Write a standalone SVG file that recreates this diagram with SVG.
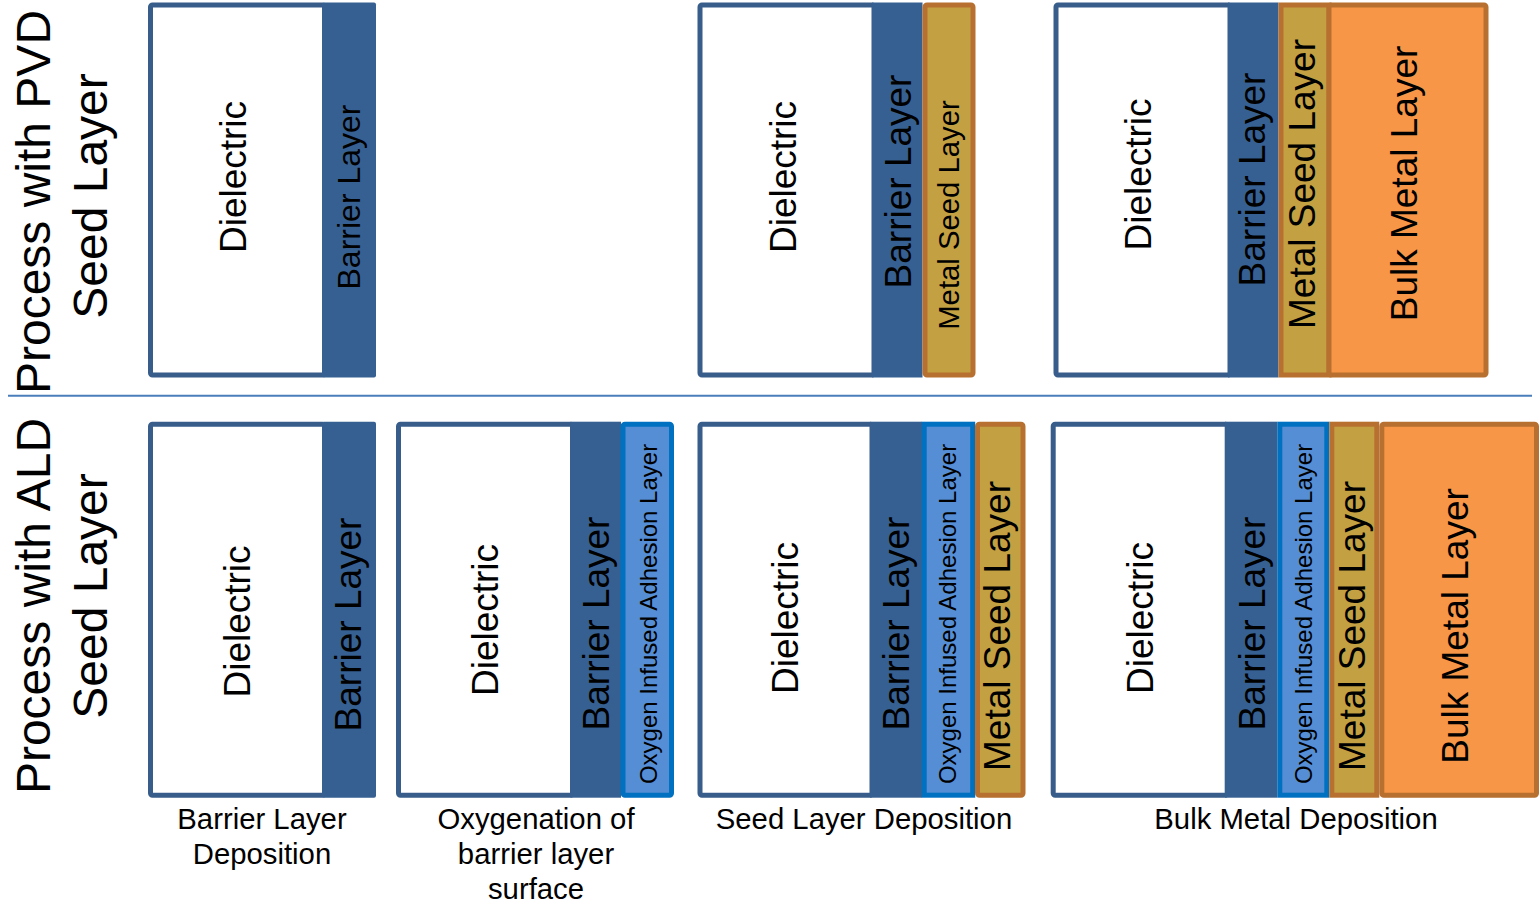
<svg xmlns="http://www.w3.org/2000/svg" width="1540" height="905" viewBox="0 0 1540 905">
<style>
text{font-family:"Liberation Sans",Arial,sans-serif;fill:#000;text-anchor:middle}
.diel{fill:#fff;stroke:#385D8A;stroke-width:5}
.bar{fill:#376092}
.oxy{fill:#558ED5;stroke:#0070C0;stroke-width:5}
.seed{fill:#C3A042;stroke:#B7702F;stroke-width:5}
.bulk{fill:#F79646;stroke:#B7702F;stroke-width:5}
.f37{font-size:37px}
.f32{font-size:32px}
.f29{font-size:29.3px}
.f24{font-size:24px}
.f48{font-size:48px}
</style>
<rect width="1540" height="905" fill="#fff"/>
<g id="divider"><line x1="8" y1="395.7" x2="1532" y2="395.7" stroke="#4A7EBB" stroke-width="2"/></g>
<g id="labels">
<text class="f48" transform="translate(50,202) rotate(-90)">Process with PVD</text>
<text class="f48" transform="translate(107,196) rotate(-90)">Seed Layer</text>
<text class="f48" transform="translate(50,606) rotate(-90)">Process with ALD</text>
<text class="f48" transform="translate(107,596) rotate(-90)">Seed Layer</text>
</g>
<g id="pvd-1">
<rect class="diel" x="150.5" y="5" width="174" height="370" rx="2"/>
<rect class="bar" x="322" y="2.5" width="54" height="375" rx="2"/>
<text class="f37" transform="translate(246,177) rotate(-90)">Dielectric</text>
<text class="f32" transform="translate(360,197) rotate(-90)">Barrier Layer</text>
</g>
<g id="pvd-2">
<rect class="diel" x="700" y="5" width="174" height="370" rx="2"/>
<rect class="bar" x="872" y="2.5" width="50.5" height="375"/>
<rect class="seed" x="925" y="5" width="48" height="370" rx="2"/>
<text class="f37" transform="translate(796,177) rotate(-90)">Dielectric</text>
<text class="f37" transform="translate(911,181.5) rotate(-90)">Barrier Layer</text>
<text class="f29" transform="translate(959,215) rotate(-90)">Metal Seed Layer</text>
</g>
<g id="pvd-3">
<rect class="diel" x="1056" y="5" width="174" height="370" rx="2"/>
<rect class="bar" x="1228" y="2.5" width="50.5" height="375"/>
<rect class="seed" x="1281" y="5" width="48" height="370"/>
<rect class="bulk" x="1329" y="5" width="157" height="370" rx="2"/>
<text class="f37" transform="translate(1151,174.5) rotate(-90)">Dielectric</text>
<text class="f37" transform="translate(1265,179.5) rotate(-90)">Barrier Layer</text>
<text class="f37" transform="translate(1315,184) rotate(-90)">Metal Seed Layer</text>
<text class="f37" transform="translate(1417,183.5) rotate(-90)">Bulk Metal Layer</text>
</g>
<g id="ald-1">
<rect class="diel" x="150.5" y="424.2" width="174" height="371" rx="2"/>
<rect class="bar" x="322" y="421.7" width="54" height="376" rx="2"/>
<text class="f37" transform="translate(250,621.5) rotate(-90)">Dielectric</text>
<text class="f37" transform="translate(361,624.5) rotate(-90)">Barrier Layer</text>
</g>
<g id="ald-2">
<rect class="diel" x="398.5" y="424.2" width="174" height="371" rx="2"/>
<rect class="bar" x="570.5" y="421.7" width="50.5" height="376"/>
<rect class="oxy" x="623" y="424.2" width="48.5" height="371" rx="2"/>
<text class="f37" transform="translate(498,620) rotate(-90)">Dielectric</text>
<text class="f37" transform="translate(609,623.5) rotate(-90)">Barrier Layer</text>
<text class="f24" transform="translate(657,614) rotate(-90)">Oxygen Infused Adhesion Layer</text>
</g>
<g id="ald-3">
<rect class="diel" x="700" y="424.2" width="172" height="371" rx="2"/>
<rect class="bar" x="870" y="421.7" width="52" height="376"/>
<rect class="oxy" x="924.2" y="424.2" width="48.5" height="371"/>
<rect class="seed" x="977.5" y="424.2" width="45.5" height="371" rx="2"/>
<text class="f37" transform="translate(798,618) rotate(-90)">Dielectric</text>
<text class="f37" transform="translate(909,623.5) rotate(-90)">Barrier Layer</text>
<text class="f24" transform="translate(956,614) rotate(-90)">Oxygen Infused Adhesion Layer</text>
<text class="f37" transform="translate(1010,626) rotate(-90)">Metal Seed Layer</text>
</g>
<g id="ald-4">
<rect class="diel" x="1053.2" y="424.2" width="174" height="371" rx="2"/>
<rect class="bar" x="1225" y="421.7" width="52.3" height="376"/>
<rect class="oxy" x="1279.8" y="424.2" width="47" height="371"/>
<rect class="seed" x="1331.8" y="424.2" width="45" height="371"/>
<rect class="bulk" x="1381.8" y="424.2" width="154.7" height="371" rx="2"/>
<text class="f37" transform="translate(1153,618) rotate(-90)">Dielectric</text>
<text class="f37" transform="translate(1265,623.5) rotate(-90)">Barrier Layer</text>
<text class="f24" transform="translate(1312,614) rotate(-90)">Oxygen Infused Adhesion Layer</text>
<text class="f37" transform="translate(1365,626) rotate(-90)">Metal Seed Layer</text>
<text class="f37" transform="translate(1468,626) rotate(-90)">Bulk Metal Layer</text>
</g>
<g id="captions">
<text class="f29" x="262" y="829">Barrier Layer</text>
<text class="f29" x="262" y="864">Deposition</text>
<text class="f29" x="536" y="829">Oxygenation of</text>
<text class="f29" x="536" y="864">barrier layer</text>
<text class="f29" x="536" y="899">surface</text>
<text class="f29" x="864" y="829">Seed Layer Deposition</text>
<text class="f29" x="1296" y="829">Bulk Metal Deposition</text>
</g>
</svg>
